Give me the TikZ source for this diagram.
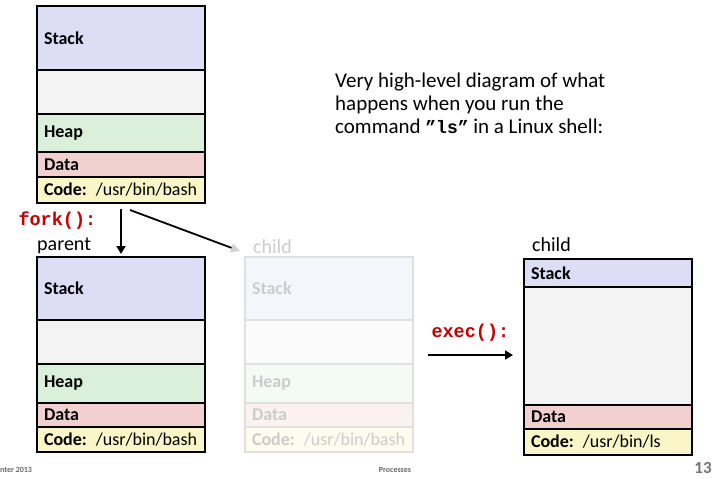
\documentclass[tikz,border=0pt]{standalone}
\usepackage{fontspec}
\setmainfont{Carlito}
\setmonofont{Liberation Mono}
\usetikzlibrary{arrows.meta,positioning}
\definecolor{stackcol}{RGB}{221,221,245}
\definecolor{gapcol}{RGB}{243,243,243}
\definecolor{heapcol}{RGB}{219,240,218}
\definecolor{datacol}{RGB}{242,208,208}
\definecolor{codecol}{RGB}{250,246,200}
\definecolor{callred}{RGB}{200,0,0}

\begin{document}
\begin{tikzpicture}[
  x=1pt, y=-1pt,
  node distance=0pt,
  seg/.style={draw, line width=1.4pt, text width=160pt, inner xsep=4pt,
    inner ysep=0pt, outer sep=0pt, align=left,
    execute at begin node={\hspace*{3pt}},
    font=\fontsize{18}{20}\selectfont},
  faded/.style={draw=black!12, text=black!20},
  call/.style={text=callred, font=\ttfamily\bfseries\fontsize{18.5}{20}\selectfont},
  tag/.style={font=\fontsize{20}{22}\selectfont},
  flow/.style={-{Triangle[length=8pt,width=9pt]}, line width=1.8pt}
]
\useasboundingbox (0,0) rectangle (721,479);

% shell process before fork
\node[seg, fill=stackcol, minimum height=64pt, anchor=north] (stackA) at (121,6) {\textbf{Stack}};
\node[seg, fill=gapcol, minimum height=44pt, below=of stackA] (gapA) {};
\node[seg, fill=heapcol, minimum height=38pt, below=of gapA] (heapA) {\textbf{Heap}};
\node[seg, fill=datacol, minimum height=25pt, below=of heapA] (dataA) {\textbf{Data}};
\node[seg, fill=codecol, minimum height=26pt, below=of dataA] (codeA) {\textbf{Code:} /usr/bin/bash};

% parent after fork
\node[seg, fill=stackcol, minimum height=63pt, anchor=north] (stackP) at (121,257) {\textbf{Stack}};
\node[seg, fill=gapcol, minimum height=44pt, below=of stackP] (gapP) {};
\node[seg, fill=heapcol, minimum height=39pt, below=of gapP] (heapP) {\textbf{Heap}};
\node[seg, fill=datacol, minimum height=24pt, below=of heapP] (dataP) {\textbf{Data}};
\node[seg, fill=codecol, minimum height=25pt, below=of dataP] (codeP) {\textbf{Code:} /usr/bin/bash};

% child right after fork (greyed out)
\node[seg, faded, fill=stackcol!30, minimum height=63pt, anchor=north] (stackC) at (329,257) {\textbf{Stack}};
\node[seg, faded, fill=gapcol!30, minimum height=44pt, below=of stackC] (gapC) {};
\node[seg, faded, fill=heapcol!30, minimum height=39pt, below=of gapC] (heapC) {\textbf{Heap}};
\node[seg, faded, fill=datacol!30, minimum height=24pt, below=of heapC] (dataC) {\textbf{Data}};
\node[seg, faded, fill=codecol!30, minimum height=25pt, below=of dataC] (codeC) {\textbf{Code:} /usr/bin/bash};

% child after exec
\node[seg, fill=stackcol, minimum height=28pt, anchor=north] (stackE) at (608,259) {\textbf{Stack}};
\node[seg, fill=gapcol, minimum height=118pt, below=of stackE] (gapE) {};
\node[seg, fill=datacol, minimum height=24pt, below=of gapE] (dataE) {\textbf{Data}};
\node[seg, fill=codecol, minimum height=26pt, below=of dataE] (codeE) {\textbf{Code:} /usr/bin/ls};

% labels
\node[call, anchor=west] (fork) at (15,221) {fork():};
\node[tag, anchor=south west, inner sep=0pt, yshift=3pt] (parent) at (stackP.north west) {parent};
\node[tag, faded, draw=none, anchor=south west, inner sep=0pt, xshift=8pt, yshift=3pt] (childC) at (stackC.north west) {child};
\node[tag, anchor=south west, inner sep=0pt, xshift=8pt, yshift=7pt] (childE) at (stackE.north west) {child};
\node[call, anchor=west] (exec) at (428,333) {exec():};

\node[anchor=north west, inner sep=0pt, align=left, font=\fontsize{21}{23}\selectfont] (note) at (335,73)
  {Very high-level diagram of what\\happens when you run the\\command {\ttfamily\bfseries\fontsize{18}{23}\selectfont ”ls”} in a Linux shell:};

% arrows
\draw[flow, shorten <=6pt, shorten >=3pt] (codeA.south) -- (stackP.north);
\draw[flow, -{Triangle[length=9pt,width=9pt,color=black!18]}]
  ([xshift=9pt,yshift=-7pt]codeA.south) -- ([xshift=-5pt,yshift=6pt]stackC.north west);
\coordinate (execfrom) at (428,355);
\draw[flow, shorten >=11pt] (execfrom) -- (execfrom -| gapE.west);

% footer
\node[anchor=west, inner sep=0pt, text=black!60, font=\bfseries\fontsize{8}{9}\selectfont] (term) at (0,470) {nter 2013};
\node[text=black!60, font=\bfseries\fontsize{8}{9}\selectfont] (topic) at (395,470) {Processes};
\node[text=black!55, font=\bfseries\fontsize{17}{19}\selectfont] (page) at (703,468) {13};
\end{tikzpicture}
\end{document}
